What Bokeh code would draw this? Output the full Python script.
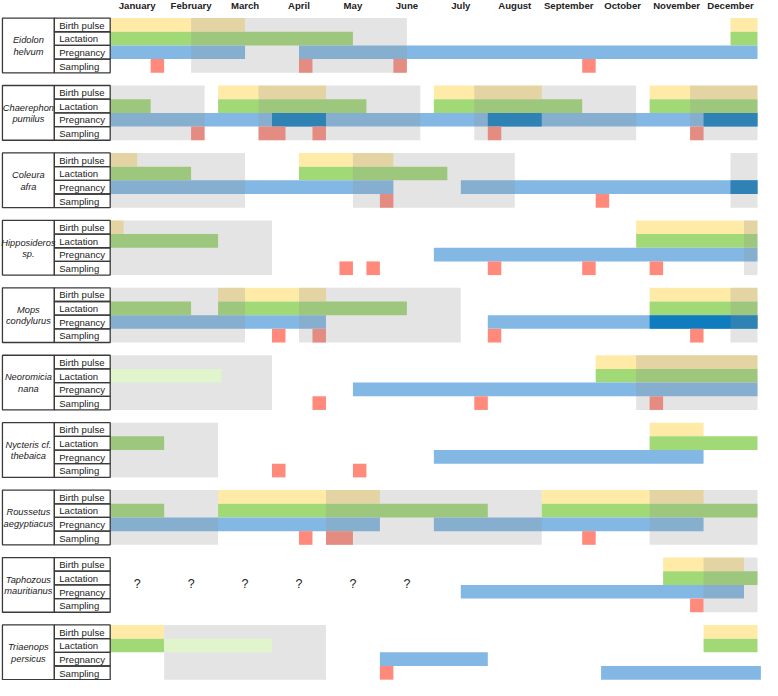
from bokeh.plotting import figure
from bokeh.models import Range1d, ColumnDataSource
from bokeh.embed import file_html
from bokeh.resources import INLINE
from bokeh.core.properties import value

# ---------------- data ----------------
MONTHS = ["January", "February", "March", "April", "May", "June", "July",
          "August", "September", "October", "November", "December"]
SPECIES = [("Eidolon", "helvum"), ("Chaerephon", "pumilus"), ("Coleura", "afra"),
           ("Hipposideros", "sp."), ("Mops", "condylurus"), ("Neoromicia", "nana"),
           ("Nycteris cf.", "thebaica"), ("Roussetus", "aegyptiacus"),
           ("Taphozous", "mauritianus"), ("Triaenops", "persicus")]
ROW_LABELS = ["Birth pulse", "Lactation", "Pregnancy", "Sampling"]

# (species index, start week, end week) -- 4 weeks per month, week 0 = start of January
BIRTH_PULSE = [(0, 0, 10), (0, 46, 48),
               (1, 8, 16), (1, 24, 32), (1, 40, 48),
               (2, 0, 2), (2, 14, 21),
               (3, 0, 1), (3, 39, 48),
               (4, 8, 16), (4, 40, 48),
               (5, 36, 48),
               (6, 40, 44),
               (7, 8, 20), (7, 32, 44),
               (8, 41, 47),
               (9, 0, 4), (9, 44, 48)]
LACTATION = [(0, 0, 18), (0, 46, 48),
             (1, 0, 3), (1, 8, 19), (1, 24, 35), (1, 40, 48),
             (2, 0, 6), (2, 14, 25),
             (3, 0, 8), (3, 39, 48),
             (4, 0, 6), (4, 8, 22), (4, 40, 48),
             (5, 36, 48),
             (6, 0, 4), (6, 40, 48),
             (7, 0, 4), (7, 8, 28), (7, 32, 48),
             (8, 41, 48),
             (9, 0, 4), (9, 44, 48)]
LACTATION_UNCERTAIN = [(5, 0, 8.25), (9, 4, 12)]
PREGNANCY = [(0, 0, 10), (0, 14, 48),
             (1, 0, 48),
             (2, 0, 21), (2, 26, 48),
             (3, 24, 48),
             (4, 0, 16), (4, 28, 48),
             (5, 18, 48),
             (6, 24, 44),
             (7, 0, 20), (7, 24, 44),
             (8, 26, 47),
             (9, 20, 28)]
PREGNANCY_OVERLAP = [(1, 12, 16), (1, 28, 32), (1, 44, 48),
                     (2, 46, 48),
                     (4, 40, 48)]
SAMPLING = [(0, 3, 4), (0, 14, 15), (0, 21, 22), (0, 35, 36),
            (1, 6, 7), (1, 11, 13), (1, 15, 16), (1, 28, 29), (1, 43, 44),
            (2, 20, 21), (2, 36, 37),
            (3, 17, 18), (3, 19, 20), (3, 28, 29), (3, 35, 36), (3, 40, 41),
            (4, 12, 13), (4, 15, 16), (4, 28, 29), (4, 43, 44),
            (5, 15, 16), (5, 27, 28), (5, 40, 41),
            (6, 12, 13), (6, 18, 19),
            (7, 14, 15), (7, 16, 18), (7, 35, 36),
            (8, 43, 44),
            (9, 20, 21)]
SAMPLING_ROW_BLUE = [(9, 36.4, 48.25)]
GREY_PERIODS = [(0, 6, 22),
                (1, 0, 7), (1, 11, 23), (1, 27, 39), (1, 43, 48),
                (2, 0, 10), (2, 18, 30), (2, 46, 48),
                (3, 0, 12), (3, 47, 48),
                (4, 0, 10), (4, 14, 26), (4, 46, 48),
                (5, 0, 12), (5, 39, 48),
                (6, 0, 8),
                (7, 0, 8), (7, 16, 32), (7, 40, 48),
                (8, 44, 48),
                (9, 4, 16)]
UNKNOWN = [(8, 0), (8, 1), (8, 2), (8, 3), (8, 4), (8, 5)]  # (species, month index)

# ---------------- layout / style ----------------
PITCH = 4.93
CELL_L, CELL_M = -7.99, -4.14
FONT = value("Liberation Sans")
YELLOW, GREEN, BLUE = "#FFEAA8", "#A2D977", "#82B8E3"
DARK_BLUE, RED, LIGHT_GREEN = "#0E7CBF", "#FF8A7B", "#E0F5CC"

p = figure(width=762, height=680, output_backend="svg", toolbar_location=None,
           x_range=Range1d(-8.134, 48.37), y_range=Range1d(48.43, -1.286),
           min_border=0, x_axis_location=None, y_axis_location=None)
p.outline_line_color = None
p.grid.visible = False
p.background_fill_color = "white"


def bars(items, row, color, alpha=1.0, span=1):
    src = ColumnDataSource(dict(
        left=[s for _, s, _ in items],
        right=[e for _, _, e in items],
        top=[k * PITCH + row for k, _, _ in items],
        bottom=[k * PITCH + row + span for k, _, _ in items]))
    p.quad(left="left", right="right", top="top", bottom="bottom", source=src,
           fill_color=color, fill_alpha=alpha, line_color=None)


bars(BIRTH_PULSE, 0, YELLOW)
bars(LACTATION, 1, GREEN)
bars(PREGNANCY, 2, BLUE)
bars(PREGNANCY_OVERLAP, 2, DARK_BLUE)
bars(SAMPLING, 3, RED)
bars(SAMPLING_ROW_BLUE, 3, BLUE)
bars(GREY_PERIODS, 0, "#949494", alpha=0.252, span=4)
bars(LACTATION_UNCERTAIN, 1, LIGHT_GREEN)

# label cells
n = len(SPECIES)
p.quad(left=[CELL_L] * n, right=[CELL_M] * n,
       top=[k * PITCH for k in range(n)], bottom=[k * PITCH + 4 for k in range(n)],
       fill_alpha=0, line_color="#3a3a3a", line_width=1.3)
p.quad(left=[CELL_M] * (4 * n), right=[0] * (4 * n),
       top=[k * PITCH + r for k in range(n) for r in range(4)],
       bottom=[k * PITCH + r + 1 for k in range(n) for r in range(4)],
       fill_alpha=0, line_color="#3a3a3a", line_width=1.3)

# row labels
p.text(x=[CELL_M + 0.36] * (4 * n),
       y=[k * PITCH + r + 0.52 for k in range(n) for r in range(4)],
       text=[ROW_LABELS[r] for k in range(n) for r in range(4)],
       text_font=FONT, text_font_size=value("9.6px"), text_color="#222222",
       text_align="left", text_baseline="middle")

# species names
cx = (CELL_L + CELL_M) / 2
p.text(x=[cx] * n, y=[k * PITCH + 1.62 for k in range(n)],
       text=[a for a, _ in SPECIES], text_font=FONT, text_font_style="italic",
       text_font_size=value("9.3px"), text_color="#222222",
       text_align="center", text_baseline="middle")
p.text(x=[cx] * n, y=[k * PITCH + 2.46 for k in range(n)],
       text=[b for _, b in SPECIES], text_font=FONT, text_font_style="italic",
       text_font_size=value("9.3px"), text_color="#222222",
       text_align="center", text_baseline="middle")

# month headers
p.text(x=[4 * i + 2 for i in range(12)], y=[-0.93] * 12, text=MONTHS,
       text_font=FONT, text_font_style="bold", text_font_size=value("9.6px"),
       text_color="#222222", text_align="center", text_baseline="middle")

# unknown marks
p.text(x=[4 * m + 2 for _, m in UNKNOWN], y=[k * PITCH + 1.9 for k, _ in UNKNOWN],
       text=["?"] * len(UNKNOWN), text_font=FONT, text_font_size=value("12.5px"),
       text_color="#222222", text_align="center", text_baseline="middle")

open("out.html", "w").write(file_html(p, INLINE))
